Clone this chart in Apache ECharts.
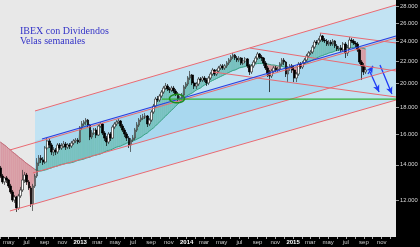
<!DOCTYPE html>
<html><head><meta charset="utf-8">
<script src="https://cdn.jsdelivr.net/npm/echarts@6/dist/echarts.min.js"></script>
<style>html,body{margin:0;padding:0;background:#000}#c{width:420px;height:247px}</style>
</head><body><div id="c"></div>
<script>
// ---- weekly candles (IBEX con dividendos), first week 2012-04-02 ----
const firstWeek = '2012-04-02';
const open = [13810,13330,12990,13220,13100,12760,12430,12000,12160,11590,
12220,12540,13100,13390,12990,12650,11800,12760,13330,14110,
14420,14300,14170,15070,15540,15270,14810,14940,14810,15270,
15070,15200,15330,15130,15270,15200,15400,15540,15600,15470,
16450,16740,16880,17030,16660,15810,16090,16300,15950,16590,
16740,16090,15740,15470,16020,15740,16520,16740,16880,16960,
16590,16300,16020,15740,15270,15600,15740,16300,16660,17030,
17180,17260,17330,16740,17030,17640,18110,18670,18590,18920,
19250,19590,19770,19510,19420,19590,19340,19090,18670,18760,
19000,19680,19940,20470,20740,20030,19770,19940,20380,20290,
20470,20290,20030,20470,20830,21200,20830,21110,21390,21580,
21390,21580,21860,22150,22440,22640,22340,22150,22340,21860,
22050,22250,21580,21020,21580,21950,22340,22740,22440,22340,
21860,21390,20830,20650,21110,21390,21200,21290,21760,22150,
21950,20830,21390,21580,21200,20470,20830,21760,21480,21860,
22150,22540,22840,22940,23440,23960,23860,24170,24600,24170,
24070,23750,23960,23750,24070,23550,23240,23340,23140,23750,
22840,23340,24170,24070,23860,23750,23140,21950,21580,21020];
const close = [13330,12990,13220,13100,12760,12430,12000,12160,11590,12220,
12540,13100,13390,12990,12650,11800,12760,13330,14110,14420,
14300,14170,15070,15540,15270,14810,14940,14810,15270,15070,
15200,15330,15130,15270,15200,15400,15540,15600,15470,16450,
16740,16880,17030,16660,15810,16090,16300,15950,16590,16740,
16090,15740,15470,16020,15740,16520,16740,16880,16960,16590,
16300,16020,15740,15270,15600,15740,16300,16660,17030,17180,
17260,17330,16740,17030,17640,18110,18670,18590,18920,19250,
19590,19770,19510,19420,19590,19340,19090,18670,18760,19000,
19680,19940,20470,20740,20030,19770,19940,20380,20290,20470,
20290,20030,20470,20830,21200,20830,21110,21390,21580,21390,
21580,21860,22150,22440,22640,22340,22150,22340,21860,22050,
22250,21580,21020,21580,21950,22340,22740,22440,22340,21860,
21390,20830,20650,21110,21390,21200,21290,21760,22150,21950,
20830,21390,21580,21200,20470,20830,21760,21480,21860,22150,
22540,22840,22940,23440,23960,23860,24170,24600,24170,24070,
23750,23960,23750,24070,23550,23240,23340,23140,23750,22840,
23340,24170,24070,23860,23750,23140,21950,21580,21020,21200];
const high = [13930,13450,13280,13330,13160,12880,12540,12270,12220,12330,
12710,13690,13570,13510,13100,12760,12880,13450,14420,14610,
14610,14480,15200,15740,15670,15400,15130,15070,15400,15400,
15400,15540,15470,15400,15400,15540,15670,15740,15740,16590,
16960,17030,17180,17110,16740,16300,16450,16450,16740,16880,
16810,16230,15880,16160,16160,16660,16880,17030,17180,17030,
16740,16450,16160,15880,15740,15950,16450,16880,17180,17410,
17490,17560,17410,17180,17790,18270,18840,18920,19090,19420,
19770,20030,19940,19680,19770,19770,19510,19250,18920,19170,
19850,20110,20650,21110,20830,20200,20110,20560,20560,20650,
20650,20470,20650,21020,21390,21290,21290,21580,21760,21760,
21760,22050,22340,22640,22840,22740,22540,22540,22440,22250,
22440,22340,21760,21760,22150,22540,22940,22840,22640,22440,
22050,21580,21200,21290,21580,21580,21480,21950,22340,22340,
22050,21580,21760,21760,21390,21020,21950,21950,22050,22340,
22740,23040,23140,23650,24170,24170,24390,24920,24710,24390,
24280,24170,24170,24280,24170,23750,23550,23650,23960,23960,
23650,24490,24390,24280,24070,23960,23340,22150,21860,21480];
const low = [13220,12880,12820,12930,12650,12330,11900,11850,11390,11490,
12110,12430,12930,12820,12540,11640,11440,12650,13220,13930,
14110,13990,14050,14940,15070,14610,14550,14610,14680,14940,
14940,15070,14940,15000,15000,15070,15270,15400,15330,15400,
16300,16590,16660,16520,15600,15670,15950,15740,15880,16450,
15950,15540,15200,15330,15540,15670,16370,16590,16740,16450,
16160,15810,15540,15070,14810,15470,15600,16160,16520,16880,
17030,17110,16520,16590,16880,17490,17950,18430,18430,18760,
19090,19420,19340,19170,19250,19170,18920,18510,18510,18590,
18840,19510,19770,20290,19850,19510,19510,19770,20110,20110,
20110,19770,19850,20290,20650,20650,20650,20930,21200,21200,
21200,21390,21670,21950,22250,22150,21950,21950,21670,21670,
21860,21390,20740,20830,21390,21760,22150,22250,22050,21580,
21200,20560,19250,20470,20930,21020,21020,21110,21580,21670,
20560,20110,21110,20930,20110,20110,20650,21290,21290,21670,
21950,22340,22640,22740,23240,23650,23650,23960,23960,23860,
23550,23550,23550,23550,23340,23040,23040,22940,22940,22340,
22540,23140,23860,23650,23440,22940,21760,20290,20740,20830];
// moving average
const movingAvg = [15470,15370,15270,15170,15040,14940,14810,14710,14610,14480,
14390,14300,14170,14080,13990,13900,13810,13720,13660,13630,
13630,13660,13690,13720,13780,13810,13870,13900,13930,13990,
14020,14050,14080,14110,14110,14140,14170,14230,14270,14300,
14330,14360,14420,14450,14480,14550,14580,14610,14650,14680,
14740,14810,14870,14910,14940,15000,15070,15130,15170,15200,
15270,15330,15400,15440,15510,15540,15600,15670,15740,15810,
15920,16020,16090,16230,16340,16450,16590,16740,16880,17030,
17180,17330,17490,17640,17790,17950,18110,18270,18430,18590,
18760,18880,19000,19090,19170,19300,19420,19510,19590,19730,
19850,19940,20070,20160,20250,20340,20430,20520,20610,20700,
20790,20880,20980,21070,21160,21200,21290,21390,21440,21480,
21530,21580,21630,21670,21720,21760,21810,21810,21810,21810,
21760,21760,21720,21670,21670,21630,21580,21580,21530,21480,
21440,21390,21390,21390,21440,21480,21530,21580,21670,21760,
21860,21950,22050,22150,22250,22340,22440,22540,22590,22690,
22740,22840,22890,22940,23040,23090,23140,23190,23240,23290,
23340,23340,23390,23390,23390,23390,23340,23340,23290,23240];

// ---- axes ----
const axisStart = '2012-04-01', axisEnd = '2015-12-20';
const yMin = 10208, yMax = 28800;
const yTickValues = [12000,14000,16000,18000,20000,22000,24000,26000,28000];
const xLabelDates = ['2012-05-01','2012-07-01','2012-09-01','2012-11-01',
 '2013-01-01','2013-03-01','2013-05-01','2013-07-01','2013-09-01','2013-11-01',
 '2014-01-01','2014-03-01','2014-05-01','2014-07-01','2014-09-01','2014-11-01',
 '2015-01-01','2015-03-01','2015-05-01','2015-07-01','2015-09-01','2015-11-01'];
const monthNames = ['ene','feb','mar','abr','may','jun','jul','ago','sep','oct','nov','dic'];

// ---- drawn trend lines: [startDate, startValue, endDate, endValue] ----
const lineTop      = ['2012-07-30',17720,'2015-12-20',28180];
const lineUpperRed = ['2012-05-05',14940,'2015-12-20',24390];
const lineUpperBlue= ['2012-08-23',15670,'2015-12-20',24600];
const lineLower    = ['2012-07-23',13510,'2015-12-20',21290];
const lineBottom   = ['2012-05-05',11440,'2015-12-20',18590];
const downTop      = ['2015-04-03',24930,'2015-12-20',23860];
const downMid      = ['2014-08-06',23340,'2015-12-20',21110];
const downLow      = ['2014-04-01',21020,'2015-12-20',18840];
const greenLevel   = ['2013-10-08',18670,'2015-12-20',18670];
const ellipsePoint = ['2013-11-29',18710];
const arrows = [
  ['2015-09-15',20830,'2015-10-02',21580],
  ['2015-09-22',21020,'2015-10-23',19260],
  ['2015-10-26',21670,'2015-12-06',19090]
];
const bandStart = '2012-07-30';

// ---- helpers ----
const DAY = 86400000;
function ts(s){const p=s.split('-').map(Number);return Date.UTC(p[0],p[1]-1,p[2]);}
const ln = Math.log;
const t0 = ts(firstWeek);
const weekT = close.map((_, i) => t0 + i*7*DAY);

const candleData = close.map((c,i)=>[weekT[i], ln(open[i]), ln(c), ln(low[i]), ln(high[i])]);
const fillData = [];
for (let i=0;i<close.length-1;i++){
  fillData.push([weekT[i], ln(close[i]), ln(movingAvg[i]), weekT[i+1], ln(close[i+1]), ln(movingAvg[i+1])]);
}
const maPink = movingAvg.map((m,i)=>[weekT[i], i<=18? ln(m): null]);
const maGreen = movingAvg.map((m,i)=>[weekT[i], i>=17? ln(m): null]);

function seg(l){return [{coord:[ts(l[0]), ln(l[1])]},{coord:[ts(l[2]), ln(l[3])]}];}
function pts(l){return [[ts(l[0]), ln(l[1])],[ts(l[2]), ln(l[3])]];}

const bands = [
  {top: lineTop, bottom: lineBottom, color:'#c2e3f3'},
  {top: lineUpperBlue, bottom: lineLower, color:'#a9d8ef'}
];
function lineY(l, x, api){
  const p = api.coord([ts(l[0]), ln(l[1])]);
  const q = api.coord([ts(l[2]), ln(l[3])]);
  return p[1] + (q[1]-p[1])*(x-p[0])/(q[0]-p[0]);
}

const TEAL = '#79c2c0', PINK = '#d99ca5';

function straight(l, color, width, z){
  return {type:'line', z:z, data:pts(l), symbol:'none', showSymbol:false, silent:true,
    lineStyle:{color:color, width:width, type:'solid'}};
}

const chart = echarts.init(document.getElementById('c'), null, {renderer:'canvas'});
chart.setOption({
  animation:false,
  backgroundColor:'#000',
  title:{text:'IBEX con Dividendos\nVelas semanales', left:15, top:21,
    textStyle:{fontFamily:'Liberation Serif', fontSize:10, fontWeight:'normal', color:'#3434c8', lineHeight:10}},
  grid:{left:0, right:24, top:0, bottom:10, show:true, backgroundColor:'#e8e8e8', borderWidth:0, containLabel:false, outerBoundsMode:'none'},
  xAxis:{type:'value', min:ts(axisStart), max:ts(axisEnd),
    axisLine:{show:false}, splitLine:{show:false},
    axisTick:{show:true, length:2, lineStyle:{color:'#aaa', width:1},
      customValues:(function(){const a=[];for(let y=2012;y<=2015;y++)for(let m=0;m<12;m++){const t=Date.UTC(y,m,1);if(t>=ts(axisStart)&&t<=ts(axisEnd))a.push(t);}return a;})()},
    axisLabel:{customValues:xLabelDates.map(ts), margin:2, fontSize:6, fontFamily:'Liberation Sans', color:'#cfcfcf',
      formatter:function(v){const d=new Date(v);const m=d.getUTCMonth();return m===0?'{y|'+d.getUTCFullYear()+'}':monthNames[m];},
      rich:{y:{color:'#ffffff', fontWeight:'bold', fontSize:6, fontFamily:'Liberation Sans'}}}
  },
  yAxis:{type:'value', position:'right', min:ln(yMin), max:ln(yMax),
    axisLine:{show:false}, splitLine:{show:false},
    axisTick:{show:true, length:3, lineStyle:{color:'#999'}, customValues:yTickValues.map(ln)},
    axisLabel:{customValues:yTickValues.map(ln), margin:4, fontSize:5.8, fontFamily:'Liberation Sans', color:'#d8d8d8',
      formatter:function(v){return Math.round(Math.exp(v)/1000)+'.000';}}
  },
  series:[
    {type:'custom', z:1, silent:true, clip:true,
     data:bands.map(b=>[ts(bandStart), ln(20000)]),
     encode:{x:0,y:1},
     renderItem:function(params, api){
       const b = bands[params.dataIndex];
       const xs = api.coord([ts(bandStart), ln(20000)])[0];
       const xe = api.coord([ts(axisEnd), ln(20000)])[0];
       return {type:'polygon', shape:{points:[[xs,lineY(b.top,xs,api)],[xe,lineY(b.top,xe,api)],[xe,lineY(b.bottom,xe,api)],[xs,lineY(b.bottom,xs,api)]]},
         style:{fill:b.color}};
     }},
    {type:'custom', z:2, silent:true, clip:true, data:fillData, encode:{x:0,y:1},
     renderItem:function(params, api){
       const a=api.coord([api.value(0),api.value(1)]), am=api.coord([api.value(0),api.value(2)]);
       const b=api.coord([api.value(3),api.value(4)]), bm=api.coord([api.value(3),api.value(5)]);
       const d0=api.value(1)-api.value(2), d1=api.value(4)-api.value(5);
       const poly=(p,up)=>({type:'polygon',shape:{points:p},style:{fill:up?TEAL:PINK, stroke:up?TEAL:PINK, lineWidth:0.4}});
       const ch=[];
       if((d0>=0)===(d1>=0)) ch.push(poly([a,b,bm,am], d0>=0));
       else{const f=d0/(d0-d1);const p=[a[0]+(b[0]-a[0])*f, a[1]+(b[1]-a[1])*f];
         ch.push(poly([a,p,am], d0>=0)); ch.push(poly([p,b,bm], d1>=0));}
       return {type:'group', children:ch};
     }},
    {type:'line', z:3, data:maPink, showSymbol:false, symbol:'none', connectNulls:false, silent:true,
     lineStyle:{color:'#c06876', width:1}},
    {type:'line', z:3, data:maGreen, showSymbol:false, symbol:'none', connectNulls:false, silent:true,
     lineStyle:{color:'#3aa386', width:1}},
    {type:'candlestick', z:4, data:candleData, encode:{x:0, y:[1,2,3,4]}, barWidth:2.2, silent:true,
     itemStyle:{color:'#ffffff', color0:'#000000', borderColor:'#333333', borderColor0:'#000000', borderWidth:0.7}},
    straight(lineTop, '#ea6a72', 1, 5),
    straight(lineUpperRed, '#ea6a72', 1, 5),
    straight(lineLower, '#ea6a72', 1, 5),
    straight(lineBottom, '#ea6a72', 1, 5),
    straight(downTop, '#ea6a72', 1, 5),
    straight(downMid, '#ea6a72', 1, 5),
    straight(downLow, '#ea6a72', 1, 5),
    straight(lineUpperBlue, '#2b3de0', 1.1, 6),
    straight(greenLevel, '#33b033', 1.2, 6),
    {type:'custom', z:7, silent:true, clip:true, data:[[ts(ellipsePoint[0]), ln(ellipsePoint[1])]], encode:{x:0,y:1},
     renderItem:function(params, api){
       const c = api.coord([api.value(0), api.value(1)]);
       const p=[]; for(let k=0;k<36;k++){const a=k/36*2*Math.PI; p.push([c[0]+7.5*Math.cos(a), c[1]+4.2*Math.sin(a)]);}
       return {type:'polygon', shape:{points:p}, style:{fill:'none', stroke:'#1e8c1e', lineWidth:1.5}};
     }},
    {type:'line', z:8, data:[[ts(arrows[0][0]), ln(arrows[0][1])]], symbol:'none', showSymbol:false, silent:true,
     lineStyle:{opacity:0},
     markLine:{silent:true, symbol:['none','arrow'], symbolSize:[5,7], label:{show:false}, animation:false,
       lineStyle:{color:'#1f3cf5', width:1.3, type:'solid'}, data:arrows.map(seg)}}
  ]
});
</script></body></html>
